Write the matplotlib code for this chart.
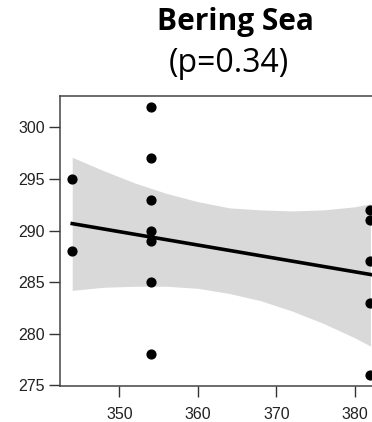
import matplotlib
matplotlib.use("Agg")
import matplotlib.pyplot as plt

# observations
pt_x = [344, 344, 354, 354, 354, 354, 354, 354, 354, 382, 382, 382, 382, 382]
pt_y = [295, 288, 302, 297, 293, 290, 289, 285, 278, 292, 291, 287, 283, 276]

# fitted line and its confidence band
fit_x = [344, 382]
fit_y = [290.67, 285.74]
band_x = [344, 348, 352, 356, 360, 364, 368, 372, 376, 380, 382]
band_lo = [284.2, 284.5, 284.6, 284.6, 284.4, 283.9, 283.2, 282.2, 281.0, 279.6, 278.8]
band_hi = [297.1, 295.8, 294.6, 293.6, 292.8, 292.2, 292.0, 291.9, 292.0, 292.3, 292.6]

xticks = [350, 360, 370, 380]
yticks = [275, 280, 285, 290, 295, 300]

fig = plt.figure(figsize=(3.72, 4.22), dpi=100)
ax = fig.add_axes([60.3 / 372, 36.3 / 422, 322.1 / 372, 289.7 / 422])

ax.fill_between(band_x, band_lo, band_hi, color="#d9d9d9", linewidth=0, zorder=1)
ax.plot(fit_x, fit_y, color="black", linewidth=2.6, zorder=2)
ax.scatter(pt_x, pt_y, s=40, color="black", zorder=3)

ax.set_xlim(342.48, 383.52)
ax.set_ylim(274.96, 303.04)
ax.set_xticks(xticks)
ax.set_yticks(yticks)
ax.tick_params(axis="both", length=8, width=1.0, color="#333333",
               labelsize=11.5, labelcolor="#222222")
ax.tick_params(axis="x", pad=7)
ax.tick_params(axis="y", pad=3)
for lab in ax.get_xticklabels() + ax.get_yticklabels():
    lab.set_family("Liberation Sans")
for s in ax.spines.values():
    s.set_color("#444444")
    s.set_linewidth(1.1)

fig.text(235 / 372, 1 - 30 / 422, "Bering Sea", fontsize=21.5, fontweight="bold",
         family="Open Sans", ha="center", va="baseline")
fig.text(229 / 372, 1 - 72 / 422, "(p=0.34)", fontsize=23,
         family="Open Sans", ha="center", va="baseline")

fig.savefig("out.png", dpi=100)
